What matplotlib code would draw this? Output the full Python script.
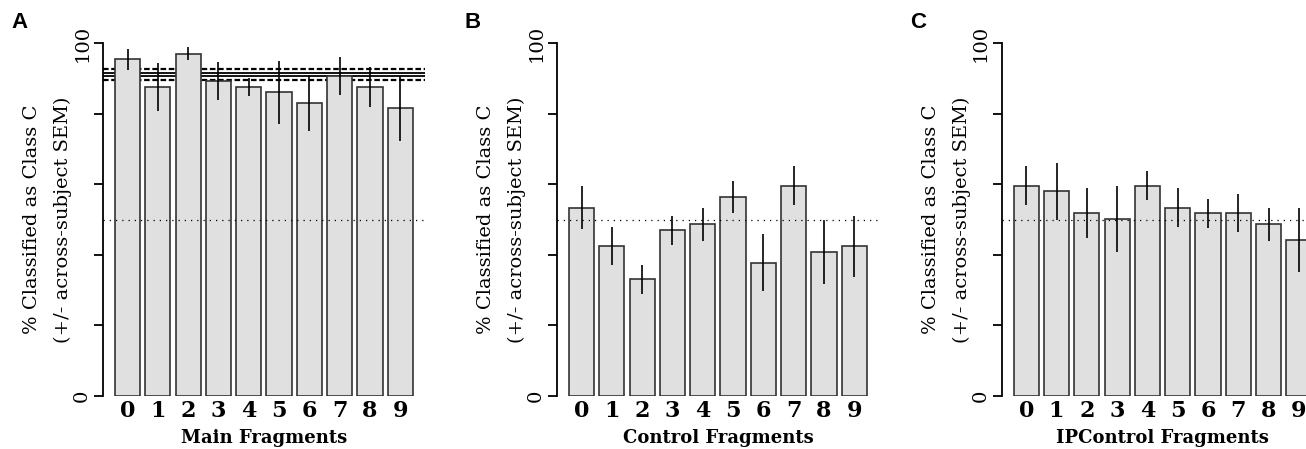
import numpy as np
import matplotlib
matplotlib.use("Agg")
import matplotlib.pyplot as plt

# values
fragments = ["0", "1", "2", "3", "4", "5", "6", "7", "8", "9"]
main_vals = [95.5, 87.6, 97.1, 89.3, 87.6, 86.1, 83.0, 90.8, 87.6, 81.5]
main_sem = [3.0, 6.7, 1.9, 5.4, 2.6, 9.0, 8.0, 5.4, 5.8, 9.3]
control_vals = [53.4, 42.4, 33.0, 47.0, 48.6, 56.4, 37.7, 59.6, 40.8, 42.4]
control_sem = [6.0, 5.4, 4.1, 4.1, 4.8, 4.5, 8.1, 5.5, 9.1, 8.7]
ipcontrol_vals = [59.6, 58.0, 51.8, 50.2, 59.6, 53.4, 51.8, 51.8, 48.6, 44.2]
ipcontrol_sem = [5.5, 8.0, 7.1, 9.4, 4.2, 5.5, 4.1, 5.4, 4.8, 9.2]
chance = 50
ref_solid = [91.5, 90.8]
ref_dashed = [92.6, 89.7]

panels = [
    ("A", "Main Fragments", main_vals, main_sem, 103),
    ("B", "Control Fragments", control_vals, control_sem, 557),
    ("C", "IPControl Fragments", ipcontrol_vals, ipcontrol_sem, 1001.7),
]

W, H = 1306, 449
fig = plt.figure(figsize=(W / 100, H / 100), dpi=100)
serif = "DejaVu Serif"

x = 0.7 + 1.2 * np.arange(len(fragments))
ax_w = 321.8 / W
ax_b = (H - 395.7) / H
ax_h = (395.7 - 43.3) / H

for letter, xlab, vals, sem, left_px in panels:
    ax = fig.add_axes([left_px / W, ax_b, ax_w, ax_h])
    ax.set_xlim(-0.272, 12.472)
    ax.set_ylim(0, 100)

    if letter == "A":
        for v in ref_solid:
            ax.axhline(v, color="black", lw=1.3, zorder=1)
        for v in ref_dashed:
            ax.axhline(v, color="black", lw=1.6, ls=(0, (2.5, 1.2)), zorder=1)

    ax.bar(x, vals, width=1.0, color="#e0e0e0", edgecolor="#333333",
           linewidth=1.2, zorder=2)
    ax.vlines(x, np.array(vals) - np.array(sem), np.array(vals) + np.array(sem),
              color="black", lw=1.2, zorder=3)
    ax.axhline(chance, color="black", lw=0.9, ls=(0, (1, 4)), zorder=4)

    for s in ["top", "right", "bottom"]:
        ax.spines[s].set_visible(False)
    ax.spines["left"].set_linewidth(1.3)
    ax.spines["left"].set_bounds(0, 100)

    ax.set_yticks([0, 20, 40, 60, 80, 100])
    ax.set_yticklabels(["0", "", "", "", "", "100"], rotation=90,
                       va="center", family=serif, fontsize=14)
    ax.tick_params(axis="y", length=6.5, width=1.3, pad=2)

    ax.set_xticks(x)
    ax.set_xticklabels(fragments, family=serif, fontsize=16, fontweight="bold")
    ax.tick_params(axis="x", length=0, pad=3)

    ax.annotate(xlab, xy=(0.5, 0), xycoords="axes fraction",
                xytext=(0, -42), textcoords="offset pixels",
                ha="center", va="center", family=serif, fontsize=13,
                fontweight="bold")
    ax.annotate("% Classified as Class C", xy=(0, 0.5), xycoords="axes fraction",
                xytext=(-71, 0), textcoords="offset pixels", rotation=90,
                ha="center", va="center", family=serif, fontsize=14)
    ax.annotate("(+/- across-subject SEM)", xy=(0, 0.5), xycoords="axes fraction",
                xytext=(-40, 0), textcoords="offset pixels", rotation=90,
                ha="center", va="center", family=serif, fontsize=14)

    fig.text((left_px - 84) / W, 1 - 23 / H, letter, family="Liberation Sans",
             fontweight="bold", fontsize=16, ha="center", va="center")

fig.savefig("out.png", dpi=100)
